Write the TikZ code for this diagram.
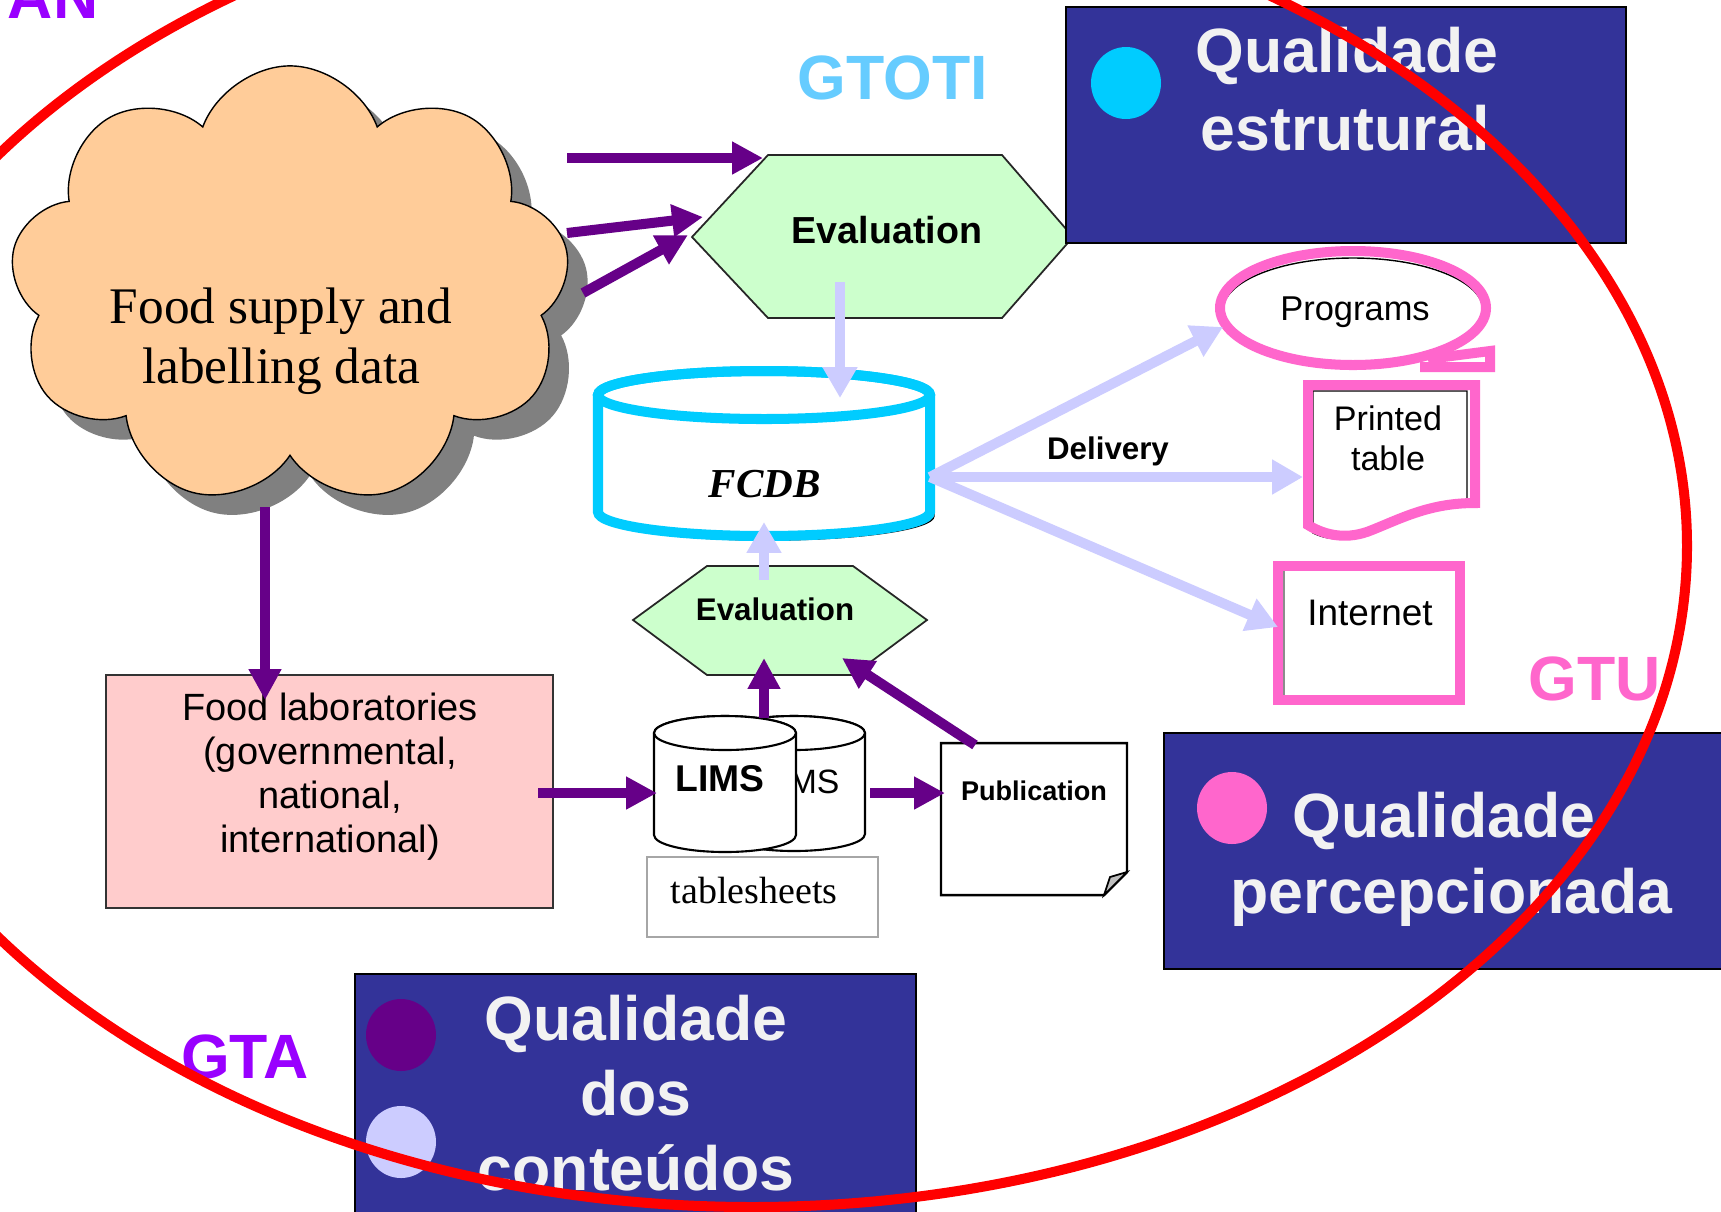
\documentclass[tikz,border=0pt]{standalone}
\usepackage{fontspec}
\setmainfont{Liberation Sans}
\newfontfamily\timesfont{Liberation Serif}
\usetikzlibrary{arrows.meta,shapes.symbols,shadows}
\definecolor{navybox}{HTML}{333399}
\definecolor{cyanq}{HTML}{00CCFF}
\definecolor{pinkq}{HTML}{FF66CC}
\definecolor{violetq}{HTML}{9900FF}
\definecolor{arrowpurple}{HTML}{660088}
\definecolor{lilac}{HTML}{CCCCFF}
\definecolor{hexgreen}{HTML}{CCFFCC}
\definecolor{peach}{HTML}{FFCC99}
\definecolor{labpink}{HTML}{FFCCCC}
\definecolor{skyq}{HTML}{66CCFF}
\definecolor{boxwhite}{HTML}{F2F2F2}
\definecolor{shadowgray}{HTML}{808080}

\begin{document}
\begin{tikzpicture}[x=0.01cm, y=-0.01cm]
\useasboundingbox (0,0) rectangle (1721,1211);
\clip (0,0) rectangle (1721,1211);
\fill[white] (0,0) rectangle (1721,1211);

\coordinate (C1_1) at (567,158);
\coordinate (C1_2) at (763,158);
\coordinate (C2_1) at (567,233);
\coordinate (C2_2) at (703,217);
\coordinate (C3_1) at (583,293);
\coordinate (C3_2) at (688,235);
\coordinate (C4_1) at (265,507);
\coordinate (C4_2) at (265,700);
\coordinate (C5_1) at (538,793);
\coordinate (C5_2) at (657,793);
\coordinate (C6_1) at (870,793);
\coordinate (C6_2) at (945,793);
\coordinate (C7_1) at (764,718);
\coordinate (C7_2) at (764,658);
\coordinate (C8_1) at (975,745);
\coordinate (C8_2) at (842,658);
\coordinate (D1_1) at (840,282);
\coordinate (D1_2) at (840,398);
\coordinate (D2_1) at (764,580);
\coordinate (D2_2) at (764,522);
\coordinate (D3_0) at (930,477);
\coordinate (D3_1) at (1223,327);
\coordinate (D3_2) at (1303,477);
\coordinate (D3_3) at (1278,627);

\tikzset{TextStyle/.style = {inner sep=0pt, anchor=base}}
\tikzset{SansStyle/.style = {TextStyle, font=\fontsize{#1}{#1}\selectfont}}
\tikzset{BoldStyle/.style = {TextStyle, font=\fontsize{#1}{#1}\selectfont\bfseries}}
\tikzset{SerifStyle/.style = {TextStyle, font=\fontsize{#1}{#1}\selectfont\timesfont}}

\node[cloud, cloud puffs=9, cloud puff arc=140, aspect=1.25, draw=black, thin,
 fill=peach, minimum width=5.6cm, minimum height=4.4cm,
 drop shadow={shadow xshift=0.2cm, shadow yshift=-0.2cm, fill=shadowgray, opacity=1}]
 (S1) at (290,286) {};
\node[SerifStyle=14.6] (S1_a) at (281,323) {Food supply and};
\node[SerifStyle=14.6] (S1_b) at (281,383) {labelling data};

\filldraw[fill=labpink, draw=black!80, line width=0.6pt] (106,675) rectangle (553,908);
\node[SansStyle=10.8] (L1_a) at (330,720) {Food laboratories};
\node[SansStyle=10.8] (L1_b) at (330,764) {(governmental,};
\node[SansStyle=10.8] (L1_c) at (330,808) {national,};
\node[SansStyle=10.8] (L1_d) at (330,852) {international)};

\tikzset{HexStyle/.style = {fill=hexgreen, draw=black!85, line width=0.5pt}}
\filldraw[HexStyle] (768,155) -- (1002,155) -- (1073,237) -- (1002,318) -- (768,318) -- (692,237) -- cycle;
\node[BoldStyle=10.7] (E1) at (887,243) {Evaluation};
\filldraw[HexStyle] (633,620) -- (707,566) -- (853,566) -- (927,620) -- (853,675) -- (707,675) -- cycle;
\node[BoldStyle=8.9] (E2) at (775,620) {Evaluation};

\filldraw[fill=white, draw=black, thin, shift={(4,4)}] (598,395) -- (598,512)
 arc[start angle=180, end angle=0, x radius=166, y radius=24] -- (930,395)
 arc[start angle=0, end angle=-180, x radius=166, y radius=24] -- cycle;
\filldraw[fill=white, draw=cyanq, line width=2.85pt] (598,395) -- (598,512)
 arc[start angle=180, end angle=0, x radius=166, y radius=24] -- (930,395)
 arc[start angle=0, end angle=-180, x radius=166, y radius=24] -- cycle;
\draw[black, thin] (602,400) arc[start angle=180, end angle=0, x radius=164, y radius=19];
\draw[cyanq, line width=2.85pt] (764,395) ellipse [x radius=166, y radius=24];
\node[TextStyle, font=\fontsize{11.7}{11.7}\selectfont\timesfont\bfseries\itshape] (F1) at (765,497) {FCDB};

\tikzset{CanStyle/.style = {fill=white, draw=black, line width=0.6pt}}
\filldraw[CanStyle] (723,733) -- (723,834) arc[start angle=180, end angle=0, x radius=71, y radius=17]
 -- (865,733) arc[start angle=0, end angle=-180, x radius=71, y radius=17] -- cycle;
\draw[CanStyle] (794,733) ellipse [x radius=71, y radius=17];
\node[SansStyle=9.6] (M2) at (800,793) {LIMS};
\filldraw[CanStyle] (654,733) -- (654,835) arc[start angle=180, end angle=0, x radius=71, y radius=17]
 -- (796,733) arc[start angle=0, end angle=-180, x radius=71, y radius=17] -- cycle;
\draw[CanStyle] (725,733) ellipse [x radius=71, y radius=17];
\node[BoldStyle=10.6] (M1) at (720,791) {LIMS};

\draw[black!35, line width=0.8pt] (647,857) rectangle (878,937);
\node[SerifStyle=10.8] (T1) at (754,903) {tablesheets};

\filldraw[fill=white, draw=black, line width=0.7pt] (941,743) -- (1127,743) -- (1127,872) -- (1104,895) -- (941,895) -- cycle;
\filldraw[fill=black!25, draw=black, line width=0.5pt] (1104,895) -- (1110,877) -- (1127,872) -- cycle;
\node[BoldStyle=7.7] (P1) at (1034,800) {Publication};

\tikzset{PinkStyle/.style = {draw=pinkq, line width=2.85pt}}
\draw[black, thin] (1353,310) ellipse [x radius=130, y radius=52];
\draw[PinkStyle] (1353,308) ellipse [x radius=133, y radius=57];
\draw[PinkStyle, line join=miter] (1428,359) -- (1490,351) -- (1490,367) -- (1420,367);
\node[SansStyle=9.8] (R1) at (1355,320) {Programs};

\filldraw[fill=white, draw=black, thin] (1313,391) -- (1467,391) -- (1467,500)
 .. controls (1425,500) and (1398,518) .. (1370,531) .. controls (1348,541) and (1330,541) .. (1313,533) -- cycle;
\draw[PinkStyle] (1308,385) -- (1475,385) -- (1475,503)
 .. controls (1430,503) and (1402,518) .. (1372,530) .. controls (1348,540) and (1326,536) .. (1308,525) -- cycle;
\node[SansStyle=9.7] (R2_a) at (1388,430) {Printed};
\node[SansStyle=9.7] (R2_b) at (1388,470) {table};

\draw[black!45, thin] (1284,562) rectangle (1458,700);
\draw[PinkStyle] (1278,566) rectangle (1460,700);
\node[SansStyle=10.5] (R3) at (1370,625) {Internet};

\tikzset{PurpleArrow/.style = {draw=arrowpurple, line width=2.85pt, -{Triangle[length=8.8pt, width=8.8pt]}}}
\tikzset{LilacArrow/.style = {draw=lilac, line width=2.85pt, -{Triangle[length=8.8pt, width=9.4pt]}}}

\draw[PurpleArrow] (C1_1) -- (C1_2);
\draw[PurpleArrow] (C2_1) -- (C2_2);
\draw[PurpleArrow] (C3_1) -- (C3_2);
\draw[PurpleArrow] (C4_1) -- (C4_2);
\draw[PurpleArrow] (C5_1) -- (C5_2);
\draw[PurpleArrow] (C6_1) -- (C6_2);
\draw[PurpleArrow] (C7_1) -- (C7_2);
\draw[PurpleArrow] (C8_1) -- (C8_2);
\draw[LilacArrow] (D1_1) -- (D1_2);
\draw[LilacArrow] (D2_1) -- (D2_2);
\draw[LilacArrow] (D3_0) -- (D3_1);
\draw[LilacArrow] (D3_0) -- (D3_2);
\draw[LilacArrow] (D3_0) -- (D3_3);
\node[BoldStyle=8.9] (D3_t) at (1108,459) {Delivery};

\tikzset{BoxStyle/.style = {fill=navybox, draw=black, line width=0.7pt}}
\tikzset{BoxText/.style = {inner sep=0pt, text=boxwhite, font=\fontsize{17.8}{17.8}\selectfont\bfseries}}

\filldraw[BoxStyle] (1066,7) rectangle (1626,243);
\fill[cyanq] (1126,83) ellipse [x radius=35, y radius=36];
\node[BoxText, anchor=base west] (Q1_a) at (1195,72) {Qualidade};
\node[BoxText, anchor=base west] (Q1_b) at (1200,150) {estrutural};

\filldraw[BoxStyle] (1164,733) rectangle (1740,969);
\fill[pinkq] (1232,808) ellipse [x radius=35, y radius=36];
\node[BoxText, anchor=base west] (Q2_a) at (1292,837) {Qualidade};
\node[BoxText, anchor=base west] (Q2_b) at (1230,913) {percepcionada};

\filldraw[BoxStyle] (355,974) rectangle (916,1230);
\fill[arrowpurple] (401,1035) ellipse [x radius=35, y radius=36];
\fill[lilac] (401,1142) ellipse [x radius=35, y radius=36];
\node[BoxText, anchor=base] (Q3_a) at (636,1040) {Qualidade};
\node[BoxText, anchor=base] (Q3_b) at (636,1115) {dos};
\node[BoxText, anchor=base] (Q3_c) at (636,1190) {conteúdos};

\tikzset{GroupText/.style = {inner sep=0pt, font=\fontsize{17.8}{17.8}\selectfont\bfseries}}
\node[GroupText, text=skyq, anchor=base] (G1) at (893,99) {GTOTI};
\node[GroupText, text=pinkq, anchor=base] (G2) at (1595,700) {GTU};
\node[GroupText, text=violetq, anchor=base] (G3) at (245,1078) {GTA};
\node[GroupText, text=violetq, anchor=base east] (G4) at (99,18) {AN};

\draw[red, line width=2.85pt] (752,546) ellipse [x radius=935, y radius=661];

\end{tikzpicture}
\end{document}
